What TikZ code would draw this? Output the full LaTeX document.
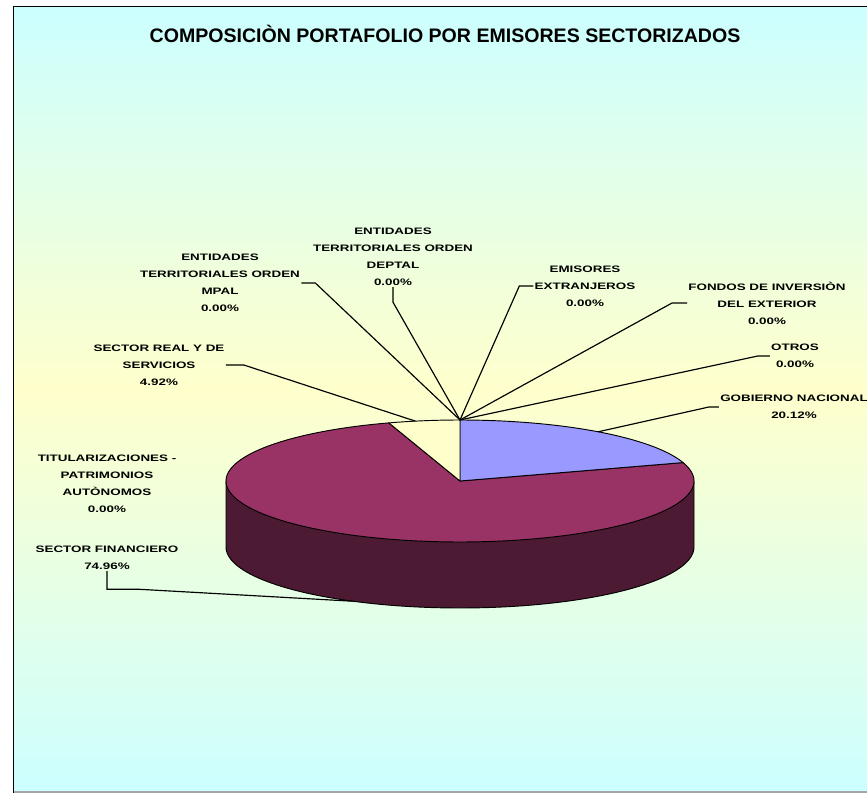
\documentclass[tikz,border=0pt]{standalone}
\usepackage{fontspec}
\setmainfont{Liberation Sans}
\newfontfamily\lblfont{Liberation Sans}[FakeStretch=1.43]

\definecolor{bgcyan}{HTML}{CCFFFF}
\definecolor{bgyellow}{HTML}{FFFFCC}
\definecolor{pieblue}{HTML}{9999FF}
\definecolor{piewine}{HTML}{993366}
\definecolor{pieside}{HTML}{4D1A33}

\tikzset{
	lbl/.style={font=\lblfont\bfseries\fontsize{8}{14.5}\selectfont, align=center, inner sep=1pt},
	lead/.style={line width=1pt},
	slice/.style={draw=black, line width=0.8pt, line join=round}
}

\begin{document}
\begin{tikzpicture}[x=0.03cm,y=-0.03cm,
	declare function={px(\a)=460+234*cos(\a); py(\a)=481-61*sin(\a);}]
	\useasboundingbox (0,0) rectangle (867,793);
	\fill[white] (0,0) rectangle (867,793);
	\shade[top color=bgcyan,bottom color=bgyellow] (14,7) rectangle (867,390);
	\shade[top color=bgyellow,bottom color=bgcyan] (14,389.5) rectangle (867,791);
	\draw[line width=1pt] (13.5,793) -- (13.5,6.5) -- (867,6.5);
	\draw[black!35,line width=1pt] (14,792) -- (867,792);

	\node[font=\bfseries\fontsize{16.7}{18}\selectfont] (title) at (445,34) {COMPOSICIÒN PORTAFOLIO POR EMISORES SECTORIZADOS};

	\filldraw[slice,fill=pieside] (226,481) -- (226,547) -- plot[domain=180:360,samples=90] ({px(\x)},{py(\x)+66}) -- (694,481) -- cycle;
	\filldraw[slice,fill=piewine] (460,481) -- plot[domain=17.57:-252.29,samples=150] ({px(\x)},{py(\x)}) -- cycle;
	\filldraw[slice,fill=pieblue] (460,481) -- plot[domain=90:17.57,samples=50] ({px(\x)},{py(\x)}) -- cycle;
	\filldraw[slice,fill=bgyellow] (460,481) -- plot[domain=107.71:90,samples=15] ({px(\x)},{py(\x)}) -- cycle;

	\coordinate (hub) at ({px(90)},{py(90)});
	\coordinate (gobmid) at ({px(53.8)},{py(53.8)});
	\coordinate (realmid) at ({px(101)},{py(101)});
	\coordinate (finmid) at ({px(-117.3)},{py(-117.3)+66});

	\node[lbl] (mpal) at (220,283) {ENTIDADES\\TERRITORIALES ORDEN\\MPAL\\0.00\%};
	\node[lbl] (deptal) at (393,257) {ENTIDADES\\TERRITORIALES ORDEN\\DEPTAL\\0.00\%};
	\node[lbl] (emisores) at (585,286) {EMISORES\\EXTRANJEROS\\0.00\%};
	\node[lbl] (fondos) at (767,303) {FONDOS DE INVERSIÒN\\DEL EXTERIOR\\0.00\%};
	\node[lbl] (real) at (159,365) {SECTOR REAL Y DE\\SERVICIOS\\4.92\%};
	\node[lbl] (otros) at (795,356) {OTROS\\0.00\%};
	\node[lbl] (gob) at (794,407) {GOBIERNO NACIONAL\\20.12\%};
	\node[lbl] (titul) at (107,484) {TITULARIZACIONES -\\PATRIMONIOS\\AUTÒNOMOS\\0.00\%};
	\node[lbl] (fin) at (107,558) {SECTOR FINANCIERO\\74.96\%};

	\draw[lead] (mpal.east) -- ++(14,0) -- (hub);
	\draw[lead] (deptal.south) -- ++(0,15) -- (hub);
	\draw[lead] (emisores.west) -- ++(-14,0) -- (hub);
	\draw[lead] (fondos.west) -- ++(-15,0) -- (hub);
	\draw[lead] (otros.west) -- ++(-12,0) -- (hub);
	\draw[lead] (gob.west) -- ++(-10,0) -- (gobmid);
	\draw[lead] (real.east) -- ++(18,0) -- (realmid);
	\draw[lead] (fin.south) -- ++(0,18) -- ++(31,0) -- (finmid);
\end{tikzpicture}
\end{document}
